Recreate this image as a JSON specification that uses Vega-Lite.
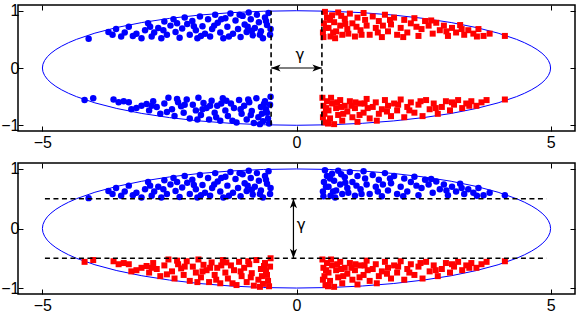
{
  "$schema": "https://vega.github.io/schema/vega-lite/v6.json",
  "padding": {"left": 0, "top": 1, "right": 2, "bottom": 2},
  "spacing": 9,
  "config": {
    "view": {"stroke": "black", "strokeWidth": 1.5},
    "axis": {"domain": false, "grid": false, "ticks": true, "tickColor": "black", "tickSize": -5, "tickWidth": 1, "labelFont": "Liberation Sans", "labelFontSize": 16, "labelColor": "black", "labelPadding": 8, "title": null}
  },
  "datasets": {
    "ell": [
      {"x":5,"y":0,"h":"u"},{"x":4.989,"y":0.0654,"h":"u"},{"x":4.957,"y":0.1305,"h":"u"},{"x":4.904,"y":0.1951,"h":"u"},{"x":4.830,"y":0.2588,"h":"u"},{"x":4.735,"y":0.3214,"h":"u"},{"x":4.619,"y":0.3827,"h":"u"},{"x":4.484,"y":0.4423,"h":"u"},{"x":4.330,"y":0.5,"h":"u"},{"x":3.967,"y":0.6088,"h":"u"},{"x":3.536,"y":0.7071,"h":"u"},{"x":3.044,"y":0.7934,"h":"u"},{"x":2.5,"y":0.866,"h":"u"},{"x":1.913,"y":0.9239,"h":"u"},{"x":1.294,"y":0.9659,"h":"u"},{"x":0.653,"y":0.9914,"h":"u"},{"x":0,"y":1,"h":"u"},{"x":-0.653,"y":0.9914,"h":"u"},{"x":-1.294,"y":0.9659,"h":"u"},{"x":-1.913,"y":0.9239,"h":"u"},{"x":-2.5,"y":0.866,"h":"u"},{"x":-3.044,"y":0.7934,"h":"u"},{"x":-3.536,"y":0.7071,"h":"u"},{"x":-3.967,"y":0.6088,"h":"u"},{"x":-4.330,"y":0.5,"h":"u"},{"x":-4.484,"y":0.4423,"h":"u"},{"x":-4.619,"y":0.3827,"h":"u"},{"x":-4.735,"y":0.3214,"h":"u"},{"x":-4.830,"y":0.2588,"h":"u"},{"x":-4.904,"y":0.1951,"h":"u"},{"x":-4.957,"y":0.1305,"h":"u"},{"x":-4.989,"y":0.0654,"h":"u"},{"x":-5,"y":0,"h":"u"},
      {"x":5,"y":0,"h":"l"},{"x":4.989,"y":-0.0654,"h":"l"},{"x":4.957,"y":-0.1305,"h":"l"},{"x":4.904,"y":-0.1951,"h":"l"},{"x":4.830,"y":-0.2588,"h":"l"},{"x":4.735,"y":-0.3214,"h":"l"},{"x":4.619,"y":-0.3827,"h":"l"},{"x":4.484,"y":-0.4423,"h":"l"},{"x":4.330,"y":-0.5,"h":"l"},{"x":3.967,"y":-0.6088,"h":"l"},{"x":3.536,"y":-0.7071,"h":"l"},{"x":3.044,"y":-0.7934,"h":"l"},{"x":2.5,"y":-0.866,"h":"l"},{"x":1.913,"y":-0.9239,"h":"l"},{"x":1.294,"y":-0.9659,"h":"l"},{"x":0.653,"y":-0.9914,"h":"l"},{"x":0,"y":-1,"h":"l"},{"x":-0.653,"y":-0.9914,"h":"l"},{"x":-1.294,"y":-0.9659,"h":"l"},{"x":-1.913,"y":-0.9239,"h":"l"},{"x":-2.5,"y":-0.866,"h":"l"},{"x":-3.044,"y":-0.7934,"h":"l"},{"x":-3.536,"y":-0.7071,"h":"l"},{"x":-3.967,"y":-0.6088,"h":"l"},{"x":-4.330,"y":-0.5,"h":"l"},{"x":-4.484,"y":-0.4423,"h":"l"},{"x":-4.619,"y":-0.3827,"h":"l"},{"x":-4.735,"y":-0.3214,"h":"l"},{"x":-4.830,"y":-0.2588,"h":"l"},{"x":-4.904,"y":-0.1951,"h":"l"},{"x":-4.957,"y":-0.1305,"h":"l"},{"x":-4.989,"y":-0.0654,"h":"l"},{"x":-5,"y":0,"h":"l"}
    ],
    "pts": [
      {"x":-4.09,"y":0.51},{"x":-3.62,"y":0.58},{"x":-3.55,"y":0.68},{"x":-3.45,"y":0.55},{"x":-3.38,"y":0.62},{"x":-3.30,"y":0.72},{"x":-3.22,"y":0.56},{"x":-3.15,"y":0.60},{"x":-3.05,"y":0.52},{"x":-2.98,"y":0.66},{"x":-2.92,"y":0.78},{"x":-2.85,"y":0.55},{"x":-2.80,"y":0.62},{"x":-2.72,"y":0.70},{"x":-2.66,"y":0.52},{"x":-2.60,"y":0.81},{"x":-2.55,"y":0.58},{"x":-2.48,"y":0.74},{"x":-2.42,"y":0.85},{"x":-2.38,"y":0.63},{"x":-2.30,"y":0.53},{"x":-2.25,"y":0.69},{"x":-2.20,"y":0.88},{"x":-2.15,"y":0.77},{"x":-2.10,"y":0.58},{"x":-2.05,"y":0.82},{"x":-1.98,"y":0.66},{"x":-1.95,"y":0.52},{"x":-1.90,"y":0.90},{"x":-1.85,"y":0.73},{"x":-1.80,"y":0.60},{"x":-1.74,"y":0.85},{"x":-1.70,"y":0.55},{"x":-1.66,"y":0.68},{"x":-1.60,"y":0.93},{"x":-1.55,"y":0.79},{"x":-1.50,"y":0.62},{"x":-1.44,"y":0.52},{"x":-1.40,"y":0.87},{"x":-1.36,"y":0.72},{"x":-1.30,"y":0.95},{"x":-1.25,"y":0.60},{"x":-1.20,"y":0.83},{"x":-1.15,"y":0.68},{"x":-1.10,"y":0.54},{"x":-1.06,"y":0.91},{"x":-1.02,"y":0.76},{"x":-0.98,"y":0.63},{"x":-0.94,"y":0.97},{"x":-0.90,"y":0.85},{"x":-0.86,"y":0.57},{"x":-0.82,"y":0.70},{"x":-0.78,"y":0.93},{"x":-0.74,"y":0.80},{"x":-0.70,"y":0.64},{"x":-0.66,"y":0.52},{"x":-0.62,"y":0.88},{"x":-0.58,"y":0.75},{"x":-0.55,"y":0.96},{"x":-0.52,"y":0.58},{"x":-0.51,"y":0.68},{"x":-2.88,"y":0.72},{"x":-2.35,"y":0.78},{"x":-1.88,"y":0.56},{"x":-1.62,"y":0.74},{"x":-1.33,"y":0.55},{"x":-1.12,"y":0.93},{"x":-0.96,"y":0.72},{"x":-0.72,"y":0.58},{"x":-0.60,"y":0.82},{"x":-3.70,"y":0.63},{"x":-2.62,"y":0.66},{"x":-2.02,"y":0.73},{"x":-1.48,"y":0.85},{"x":-0.88,"y":0.65},
      {"x":-4.17,"y":-0.56},{"x":-4.00,"y":-0.53},{"x":-3.60,"y":-0.55},{"x":-3.50,"y":-0.60},{"x":-3.40,"y":-0.58},{"x":-3.25,"y":-0.72},{"x":-3.15,"y":-0.70},{"x":-3.05,"y":-0.66},{"x":-2.95,"y":-0.63},{"x":-2.90,"y":-0.74},{"x":-2.82,"y":-0.58},{"x":-2.75,"y":-0.68},{"x":-2.68,"y":-0.80},{"x":-2.60,"y":-0.62},{"x":-2.52,"y":-0.52},{"x":-2.45,"y":-0.72},{"x":-2.40,"y":-0.84},{"x":-2.33,"y":-0.60},{"x":-2.27,"y":-0.67},{"x":-2.22,"y":-0.78},{"x":-2.16,"y":-0.55},{"x":-2.10,"y":-0.88},{"x":-2.04,"y":-0.64},{"x":-1.98,"y":-0.74},{"x":-1.93,"y":-0.52},{"x":-1.88,"y":-0.82},{"x":-1.83,"y":-0.61},{"x":-1.77,"y":-0.70},{"x":-1.72,"y":-0.90},{"x":-1.67,"y":-0.57},{"x":-1.61,"y":-0.78},{"x":-1.56,"y":-0.66},{"x":-1.50,"y":-0.92},{"x":-1.45,"y":-0.53},{"x":-1.40,"y":-0.74},{"x":-1.35,"y":-0.84},{"x":-1.29,"y":-0.62},{"x":-1.23,"y":-0.70},{"x":-1.18,"y":-0.95},{"x":-1.13,"y":-0.56},{"x":-1.08,"y":-0.80},{"x":-1.03,"y":-0.66},{"x":-0.98,"y":-0.90},{"x":-0.93,"y":-0.60},{"x":-0.88,"y":-0.75},{"x":-0.84,"y":-0.96},{"x":-0.79,"y":-0.53},{"x":-0.75,"y":-0.86},{"x":-0.70,"y":-0.68},{"x":-0.66,"y":-0.93},{"x":-0.62,"y":-0.58},{"x":-0.58,"y":-0.78},{"x":-0.54,"y":-0.97},{"x":-0.52,"y":-0.64},{"x":-0.51,"y":-0.50},{"x":-0.56,"y":-0.88},{"x":-0.60,"y":-0.72},{"x":-0.72,"y":-0.98},{"x":-0.90,"y":-0.82},{"x":-1.10,"y":-0.72},{"x":-1.26,"y":-0.92},{"x":-1.48,"y":-0.62},{"x":-1.70,"y":-0.66},{"x":-1.95,"y":-0.90},{"x":-2.20,"y":-0.64},{"x":-2.55,"y":-0.77},{"x":-2.85,"y":-0.66},{"x":-3.30,"y":-0.60},{"x":-0.68,"y":-0.80},{"x":-0.95,"y":-0.55},{"x":-1.38,"y":-0.57},{"x":-1.58,"y":-0.86},{"x":-1.85,"y":-0.72},{"x":-2.35,"y":-0.54},{"x":-0.64,"y":-0.63},
      {"x":0.52,"y":0.62},{"x":0.54,"y":0.78},{"x":0.56,"y":0.98},{"x":0.60,"y":0.88},{"x":0.63,"y":0.70},{"x":0.67,"y":0.55},{"x":0.70,"y":0.92},{"x":0.74,"y":0.80},{"x":0.78,"y":0.64},{"x":0.82,"y":0.97},{"x":0.86,"y":0.74},{"x":0.90,"y":0.58},{"x":0.95,"y":0.86},{"x":1.00,"y":0.68},{"x":1.05,"y":0.95},{"x":1.10,"y":0.78},{"x":1.15,"y":0.55},{"x":1.20,"y":0.88},{"x":1.26,"y":0.66},{"x":1.32,"y":0.96},{"x":1.38,"y":0.74},{"x":1.44,"y":0.58},{"x":1.50,"y":0.90},{"x":1.56,"y":0.70},{"x":1.62,"y":0.82},{"x":1.68,"y":0.54},{"x":1.74,"y":0.93},{"x":1.80,"y":0.64},{"x":1.86,"y":0.76},{"x":1.92,"y":0.88},{"x":1.98,"y":0.58},{"x":2.05,"y":0.70},{"x":2.12,"y":0.84},{"x":2.18,"y":0.62},{"x":2.25,"y":0.78},{"x":2.32,"y":0.87},{"x":2.40,"y":0.56},{"x":2.46,"y":0.68},{"x":2.53,"y":0.82},{"x":2.60,"y":0.74},{"x":2.68,"y":0.60},{"x":2.75,"y":0.79},{"x":2.82,"y":0.66},{"x":2.90,"y":0.74},{"x":2.98,"y":0.56},{"x":3.06,"y":0.70},{"x":3.14,"y":0.62},{"x":3.22,"y":0.75},{"x":3.30,"y":0.58},{"x":3.38,"y":0.66},{"x":3.48,"y":0.60},{"x":3.58,"y":0.68},{"x":3.68,"y":0.56},{"x":3.80,"y":0.60},{"x":4.10,"y":0.56},{"x":0.58,"y":0.70},{"x":0.66,"y":0.84},{"x":0.76,"y":0.52},{"x":0.88,"y":0.91},{"x":1.02,"y":0.60},{"x":1.18,"y":0.72},{"x":1.35,"y":0.84},{"x":1.60,"y":0.62},{"x":1.84,"y":0.84},{"x":2.10,"y":0.54},{"x":2.36,"y":0.72},{"x":2.65,"y":0.83},{"x":2.95,"y":0.64},{"x":3.25,"y":0.68},{"x":3.55,"y":0.55},{"x":0.53,"y":0.54},{"x":0.72,"y":0.62},{"x":0.96,"y":0.77},{"x":1.28,"y":0.58},{"x":1.70,"y":0.74},
      {"x":0.51,"y":-0.52},{"x":0.53,"y":-0.66},{"x":0.55,"y":-0.80},{"x":0.57,"y":-0.95},{"x":0.60,"y":-0.58},{"x":0.63,"y":-0.74},{"x":0.66,"y":-0.88},{"x":0.70,"y":-0.62},{"x":0.74,"y":-0.98},{"x":0.78,"y":-0.70},{"x":0.82,"y":-0.82},{"x":0.86,"y":-0.56},{"x":0.90,"y":-0.92},{"x":0.95,"y":-0.66},{"x":1.00,"y":-0.76},{"x":1.05,"y":-0.58},{"x":1.10,"y":-0.86},{"x":1.15,"y":-0.70},{"x":1.20,"y":-0.94},{"x":1.26,"y":-0.62},{"x":1.32,"y":-0.78},{"x":1.38,"y":-0.54},{"x":1.44,"y":-0.88},{"x":1.50,"y":-0.68},{"x":1.56,"y":-0.60},{"x":1.62,"y":-0.80},{"x":1.68,"y":-0.72},{"x":1.74,"y":-0.56},{"x":1.80,"y":-0.66},{"x":1.86,"y":-0.84},{"x":1.92,"y":-0.62},{"x":1.98,"y":-0.74},{"x":2.05,"y":-0.55},{"x":2.12,"y":-0.86},{"x":2.18,"y":-0.68},{"x":2.25,"y":-0.60},{"x":2.32,"y":-0.78},{"x":2.40,"y":-0.64},{"x":2.48,"y":-0.84},{"x":2.55,"y":-0.56},{"x":2.62,"y":-0.72},{"x":2.70,"y":-0.62},{"x":2.78,"y":-0.80},{"x":2.86,"y":-0.68},{"x":2.94,"y":-0.58},{"x":3.02,"y":-0.74},{"x":3.10,"y":-0.64},{"x":3.18,"y":-0.56},{"x":3.26,"y":-0.70},{"x":3.34,"y":-0.62},{"x":3.44,"y":-0.58},{"x":3.54,"y":-0.66},{"x":3.64,"y":-0.60},{"x":3.74,"y":-0.56},{"x":4.10,"y":-0.55},{"x":0.58,"y":-0.70},{"x":0.68,"y":-0.52},{"x":0.80,"y":-0.60},{"x":0.92,"y":-0.80},{"x":1.08,"y":-0.66},{"x":1.24,"y":-0.82},{"x":1.40,"y":-0.70},{"x":1.58,"y":-0.92},{"x":1.78,"y":-0.76},{"x":2.00,"y":-0.64},{"x":2.22,"y":-0.74},{"x":2.44,"y":-0.58},{"x":2.74,"y":-0.70},{"x":3.06,"y":-0.60},{"x":3.40,"y":-0.66},{"x":0.52,"y":-0.86},{"x":0.62,"y":-0.97},{"x":0.88,"y":-0.68},{"x":1.16,"y":-0.60},{"x":1.34,"y":-0.62}
    ]
  },
  "vconcat": [
    {
      "width": 557, "height": 126,
      "encoding": {
        "x": {"field": "x", "type": "quantitative", "scale": {"domain": [-5.48, 5.48], "nice": false, "zero": false}, "axis": null},
        "y": {"field": "y", "type": "quantitative", "scale": {"domain": [-1.1, 1.1], "nice": false, "zero": false}, "axis": null}
      },
      "layer": [
        {"data": {"name": "ell"}, "mark": {"type": "line", "color": "#0000ff", "strokeWidth": 1},
         "encoding": {
           "x": {"field": "x", "type": "quantitative", "scale": {"domain": [-5.48, 5.48], "nice": false, "zero": false}, "axis": {"orient": "bottom", "values": [-5, 0, 5]}},
           "y": {"field": "y", "type": "quantitative", "scale": {"domain": [-1.1, 1.1], "nice": false, "zero": false}, "axis": {"orient": "left", "values": [-1, 0, 1], "labelPadding": 4}},
           "detail": {"field": "h"}}},
        {"data": {"name": "ell"}, "mark": {"type": "line", "strokeOpacity": 0},
         "encoding": {
           "x": {"field": "x", "type": "quantitative", "scale": {"domain": [-5.48, 5.48], "nice": false, "zero": false}, "axis": {"orient": "top", "values": [-5, 0, 5], "labels": false}},
           "y": {"field": "y", "type": "quantitative", "scale": {"domain": [-1.1, 1.1], "nice": false, "zero": false}, "axis": {"orient": "right", "values": [-1, 0, 1], "labels": false}},
           "detail": {"field": "h"}}},
        {"data": {"name": "pts"}, "mark": {"type": "point", "filled": true, "opacity": 1},
         "encoding": {
           "color": {"condition": {"test": "datum.x < 0", "value": "#0000ff"}, "value": "#ff0000"},
           "shape": {"condition": {"test": "datum.x < 0", "value": "circle"}, "value": "square"},
           "size": {"condition": {"test": "datum.x < 0", "value": 42}, "value": 36}}},
        {"data": {"values": [{"x": -0.5, "y": -1, "y2": 1}, {"x": 0.5, "y": -1, "y2": 1}]},
         "mark": {"type": "rule", "color": "black", "strokeWidth": 1.6, "strokeDash": [5, 3.5]},
         "encoding": {"y2": {"field": "y2"}}},
        {"data": {"values": [{"x": -0.5, "x2": 0.5, "y": 0}]},
         "mark": {"type": "rule", "color": "black", "strokeWidth": 1.2},
         "encoding": {"x2": {"field": "x2"}}},
        {"data": {"values": [{"x": -0.5, "y": 0, "d": "L"}, {"x": 0.5, "y": 0, "d": "R"}]},
         "mark": {"type": "point", "filled": true, "color": "black", "opacity": 1, "size": 90},
         "encoding": {"shape": {"field": "d", "type": "nominal", "legend": null,
           "scale": {"domain": ["L", "R", "U", "D"], "range": ["M0,0 L2,-0.75 L1.5,0 L2,0.75 Z", "M0,0 L-2,-0.75 L-1.5,0 L-2,0.75 Z", "M0,0 L-0.75,2 L0,1.5 L0.75,2 Z", "M0,0 L-0.75,-2 L0,-1.5 L0.75,-2 Z"]}}}},
        {"data": {"values": [{"x": 0.07, "y": 0.22, "t": "γ"}]},
         "mark": {"type": "text", "font": "DejaVu Sans", "fontSize": 15, "color": "black", "baseline": "middle", "align": "center"},
         "encoding": {"text": {"field": "t"}}}
      ],
      "resolve": {"axis": {"x": "independent", "y": "independent"}}
    },
    {
      "width": 557, "height": 131,
      "encoding": {
        "x": {"field": "x", "type": "quantitative", "scale": {"domain": [-5.48, 5.48], "nice": false, "zero": false}, "axis": null},
        "y": {"field": "y", "type": "quantitative", "scale": {"domain": [-1.1, 1.1], "nice": false, "zero": false}, "axis": null}
      },
      "layer": [
        {"data": {"name": "ell"}, "mark": {"type": "line", "color": "#0000ff", "strokeWidth": 1},
         "encoding": {
           "x": {"field": "x", "type": "quantitative", "scale": {"domain": [-5.48, 5.48], "nice": false, "zero": false}, "axis": {"orient": "bottom", "values": [-5, 0, 5]}},
           "y": {"field": "y", "type": "quantitative", "scale": {"domain": [-1.1, 1.1], "nice": false, "zero": false}, "axis": {"orient": "left", "values": [-1, 0, 1], "labelPadding": 4}},
           "detail": {"field": "h"}}},
        {"data": {"name": "ell"}, "mark": {"type": "line", "strokeOpacity": 0},
         "encoding": {
           "x": {"field": "x", "type": "quantitative", "scale": {"domain": [-5.48, 5.48], "nice": false, "zero": false}, "axis": {"orient": "top", "values": [-5, 0, 5], "labels": false}},
           "y": {"field": "y", "type": "quantitative", "scale": {"domain": [-1.1, 1.1], "nice": false, "zero": false}, "axis": {"orient": "right", "values": [-1, 0, 1], "labels": false}},
           "detail": {"field": "h"}}},
        {"data": {"name": "pts"}, "mark": {"type": "point", "filled": true, "opacity": 1},
         "encoding": {
           "color": {"condition": {"test": "datum.y > 0", "value": "#0000ff"}, "value": "#ff0000"},
           "shape": {"condition": {"test": "datum.y > 0", "value": "circle"}, "value": "square"},
           "size": {"condition": {"test": "datum.y > 0", "value": 42}, "value": 36}}},
        {"data": {"values": [{"x": -4.95, "x2": 4.92, "y": 0.5}, {"x": -4.95, "x2": 4.92, "y": -0.5}]},
         "mark": {"type": "rule", "color": "black", "strokeWidth": 1.6, "strokeDash": [5, 3.5]},
         "encoding": {"x2": {"field": "x2"}}},
        {"data": {"values": [{"x": -0.06, "y": -0.5, "y2": 0.5}]},
         "mark": {"type": "rule", "color": "black", "strokeWidth": 1.2},
         "encoding": {"y2": {"field": "y2"}}},
        {"data": {"values": [{"x": -0.06, "y": 0.5, "d": "U"}, {"x": -0.06, "y": -0.5, "d": "D"}]},
         "mark": {"type": "point", "filled": true, "color": "black", "opacity": 1, "size": 90},
         "encoding": {"shape": {"field": "d", "type": "nominal", "legend": null,
           "scale": {"domain": ["L", "R", "U", "D"], "range": ["M0,0 L2,-0.75 L1.5,0 L2,0.75 Z", "M0,0 L-2,-0.75 L-1.5,0 L-2,0.75 Z", "M0,0 L-0.75,2 L0,1.5 L0.75,2 Z", "M0,0 L-0.75,-2 L0,-1.5 L0.75,-2 Z"]}}}},
        {"data": {"values": [{"x": 0.09, "y": 0.06, "t": "γ"}]},
         "mark": {"type": "text", "font": "DejaVu Sans", "fontSize": 15, "color": "black", "baseline": "middle", "align": "center"},
         "encoding": {"text": {"field": "t"}}}
      ],
      "resolve": {"axis": {"x": "independent", "y": "independent"}}
    }
  ]
}
